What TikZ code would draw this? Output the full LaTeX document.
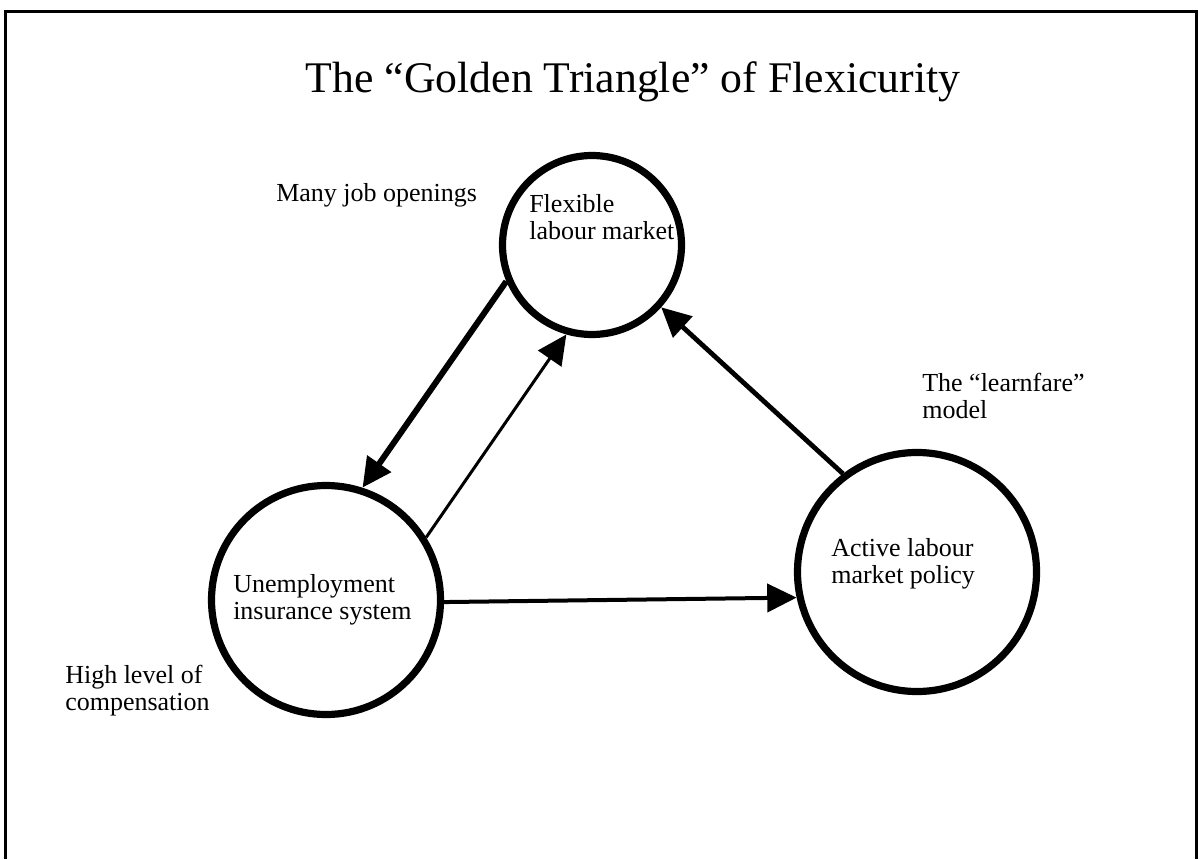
\documentclass[tikz,border=0pt]{standalone}
\usepackage{fontspec}
\setmainfont{Liberation Serif}
\usetikzlibrary{arrows.meta}
\begin{document}
\begin{tikzpicture}[x=0.75pt,y=-0.75pt,
  bubble/.style={circle,draw=black,line width=5.4pt,inner sep=0pt},
  lbl/.style={anchor=base west,inner sep=0pt,font=\fontsize{19.5}{20.25}\selectfont},
  link/.style={draw=black,-{Triangle[length=22pt,width=21pt]}},
  frame/.style={draw=black,line width=2.25pt}
]
\useasboundingbox (0,0) rectangle (1201,859);
% frame
\coordinate (f1) at (5,859);
\coordinate (f2) at (5,12);
\coordinate (f3) at (1196,12);
\coordinate (f4) at (1196,859);
\draw[frame] (f1) -- (f2) -- (f3) -- (f4);
% title
\node[anchor=base,inner sep=0pt,font=\fontsize{32.8}{36}\selectfont] (title) at (633,93) {The “Golden Triangle” of Flexicurity};
% circles
\node[bubble,minimum size=179*0.75pt] (T) at (592,245) {};
\node[bubble,minimum size=229*0.75pt] (L) at (326,600) {};
\node[bubble,minimum size=239*0.75pt] (R) at (917,572) {};
% texts
\node[lbl] (tT) at (529,213) {\begin{tabular}[t]{@{}l@{}}Flexible\\labour market\end{tabular}};
\node[lbl] (tL) at (233,592) {\begin{tabular}[t]{@{}l@{}}Unemployment\\insurance system\end{tabular}};
\node[lbl] (tR) at (831,556) {\begin{tabular}[t]{@{}l@{}}Active labour\\market policy\end{tabular}};
\node[lbl] (nT) at (276,202) {Many job openings};
\node[lbl] (nR) at (922,391) {\begin{tabular}[t]{@{}l@{}}The “learnfare”\\model\end{tabular}};
\node[lbl] (nL) at (65,683) {\begin{tabular}[t]{@{}l@{}}High level of\\compensation\end{tabular}};
% connectors
\draw[link,line width=4.5pt] (T.203.8) -- (L.72);
\draw[link,line width=2.25pt] (L.32) -- (T.254);
\draw[link,line width=3.6pt] (R.127.4) -- (T.-42);
\draw[link,line width=3pt] (L.-1.5) -- (R.192);
\end{tikzpicture}
\end{document}
